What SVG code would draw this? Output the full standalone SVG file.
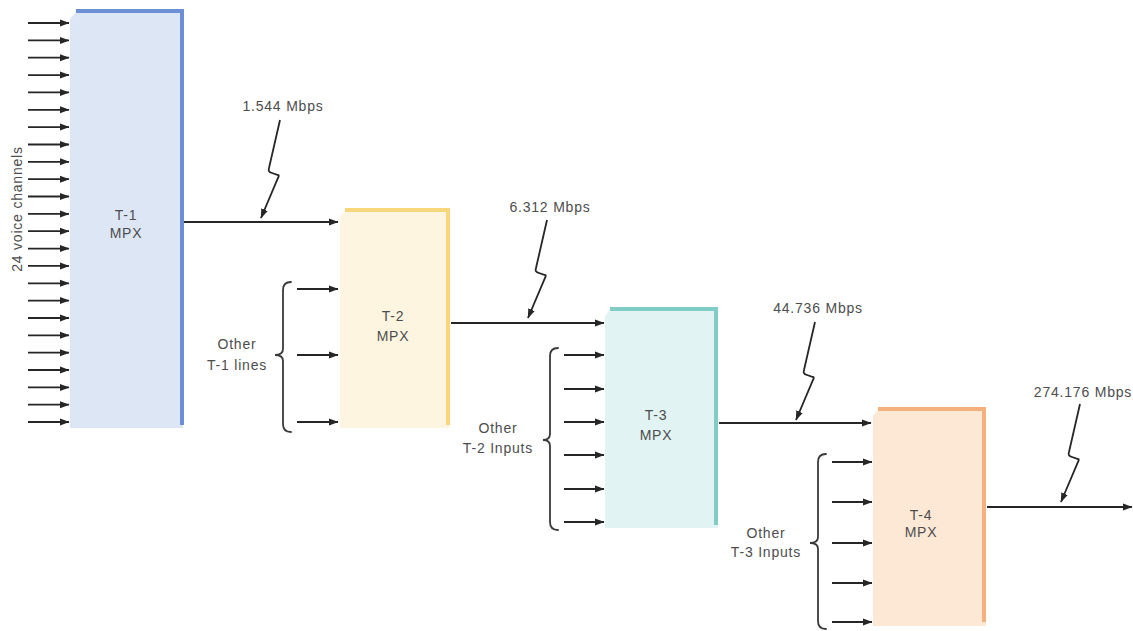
<svg xmlns="http://www.w3.org/2000/svg" width="1133" height="631" viewBox="0 0 1133 631">
<style>
.t{font-family:"Liberation Sans",Arial,sans-serif;font-size:14px;fill:#4d4d4d;letter-spacing:0.8px;text-anchor:middle}
.ln{stroke:#262626;stroke-width:1.8;fill:none}
.ar{stroke:#262626;stroke-width:1.8;fill:none;marker-end:url(#ah)}
.br{stroke:#3a3a3a;stroke-width:1.8;fill:none;stroke-linecap:round}
.edge{fill:none;stroke-width:4;stroke-linejoin:miter}
</style>
<defs>
<marker id="ah" markerUnits="userSpaceOnUse" markerWidth="10" markerHeight="8" refX="9" refY="4" orient="auto">
<path d="M0,0.5 L9.5,4 L0,7.5 z" fill="#262626"/>
</marker>
</defs>
<rect width="1133" height="631" fill="#ffffff"/>

<g id="t1">
<polygon points="70,19 77,11 183,11 183,428 70,428" fill="#dde6f5"/>
<polyline class="edge" points="76,11 182,11 182,425" stroke="#6d8fd6"/>
<text class="t" x="126" y="220">T-1</text>
<text class="t" x="126" y="238">MPX</text>
</g>

<g id="t2">
<polygon points="340,217 346,210 450,210 450,428 340,428" fill="#fdf5e0"/>
<polyline class="edge" points="345,210 448,210 448,425" stroke="#f8d77c"/>
<text class="t" x="393" y="321">T-2</text>
<text class="t" x="393" y="341">MPX</text>
</g>

<g id="t3">
<polygon points="605,316 611,309 718,309 718,528 605,528" fill="#e2f3f3"/>
<polyline class="edge" points="610,309 716,309 716,525" stroke="#7fcdc4"/>
<text class="t" x="656" y="420">T-3</text>
<text class="t" x="656" y="440">MPX</text>
</g>

<g id="t4">
<polygon points="873,416 879,409 986,409 986,626 873,626" fill="#fde8d6"/>
<polyline class="edge" points="878,409 984,409 984,622" stroke="#f5b07c"/>
<text class="t" x="921" y="520">T-4</text>
<text class="t" x="921" y="537">MPX</text>
</g>

<g id="labels">
<text class="t" transform="translate(22,209) rotate(-90)">24 voice channels</text>
<text class="t" x="283" y="111">1.544 Mbps</text>
<text class="t" x="550" y="212">6.312 Mbps</text>
<text class="t" x="818" y="313">44.736 Mbps</text>
<text class="t" x="1083" y="397">274.176 Mbps</text>
<text class="t" x="237" y="349">Other</text>
<text class="t" x="237" y="370">T-1 lines</text>
<text class="t" x="498" y="433">Other</text>
<text class="t" x="498" y="453">T-2 Inputs</text>
<text class="t" x="766" y="538">Other</text>
<text class="t" x="766" y="557">T-3 Inputs</text>
</g>

<g id="connectors">
<!-- T-1 inputs -->
<line class="ar" x1="28" y1="23" x2="69" y2="23"/>
<line class="ar" x1="28" y1="40.4" x2="69" y2="40.4"/>
<line class="ar" x1="28" y1="57.7" x2="69" y2="57.7"/>
<line class="ar" x1="28" y1="75.1" x2="69" y2="75.1"/>
<line class="ar" x1="28" y1="92.4" x2="69" y2="92.4"/>
<line class="ar" x1="28" y1="109.8" x2="69" y2="109.8"/>
<line class="ar" x1="28" y1="127.1" x2="69" y2="127.1"/>
<line class="ar" x1="28" y1="144.5" x2="69" y2="144.5"/>
<line class="ar" x1="28" y1="161.8" x2="69" y2="161.8"/>
<line class="ar" x1="28" y1="179.2" x2="69" y2="179.2"/>
<line class="ar" x1="28" y1="196.5" x2="69" y2="196.5"/>
<line class="ar" x1="28" y1="213.9" x2="69" y2="213.9"/>
<line class="ar" x1="28" y1="231.2" x2="69" y2="231.2"/>
<line class="ar" x1="28" y1="248.6" x2="69" y2="248.6"/>
<line class="ar" x1="28" y1="265.9" x2="69" y2="265.9"/>
<line class="ar" x1="28" y1="283.3" x2="69" y2="283.3"/>
<line class="ar" x1="28" y1="300.6" x2="69" y2="300.6"/>
<line class="ar" x1="28" y1="318" x2="69" y2="318"/>
<line class="ar" x1="28" y1="335.3" x2="69" y2="335.3"/>
<line class="ar" x1="28" y1="352.7" x2="69" y2="352.7"/>
<line class="ar" x1="28" y1="370" x2="69" y2="370"/>
<line class="ar" x1="28" y1="387.4" x2="69" y2="387.4"/>
<line class="ar" x1="28" y1="404.7" x2="69" y2="404.7"/>
<line class="ar" x1="28" y1="422" x2="69" y2="422"/>

<!-- trunk lines -->
<line class="ar" x1="184" y1="222" x2="338" y2="222"/>
<line class="ar" x1="451" y1="323" x2="604" y2="323"/>
<line class="ar" x1="719" y1="423" x2="871" y2="423"/>
<line class="ar" x1="987" y1="507" x2="1132" y2="507"/>

<!-- lightning bolts -->
<path class="ar" d="M280,120 l-11,48 c-1,3 0,4 3,5 l6,2 c1,0 1,1 0,3 l-17,40"/>
<path class="ar" d="M547,220 l-11,48 c-1,3 0,4 3,5 l6,2 c1,0 1,1 0,3 l-17,40"/>
<path class="ar" d="M815,322 l-11,48 c-1,3 0,4 3,5 l6,2 c1,0 1,1 0,3 l-17,40"/>
<path class="ar" d="M1080,404 l-11,48 c-1,3 0,4 3,5 l6,2 c1,0 1,1 0,3 l-17,40"/>

<!-- T-2 other inputs -->
<path class="br" d="M291,282 Q283,282 283,290 L283,349 Q283,355 275,355 Q283,355 283,361 L283,424 Q283,432 291,432"/>
<line class="ar" x1="297" y1="289" x2="338" y2="289"/>
<line class="ar" x1="297" y1="355" x2="338" y2="355"/>
<line class="ar" x1="297" y1="422" x2="338" y2="422"/>

<!-- T-3 other inputs -->
<path class="br" d="M558,348 Q550,348 550,356 L550,434 Q550,440 543,440 Q550,440 550,446 L550,522 Q550,530 558,530"/>
<line class="ar" x1="564" y1="355" x2="604" y2="355"/>
<line class="ar" x1="564" y1="389" x2="604" y2="389"/>
<line class="ar" x1="564" y1="422" x2="604" y2="422"/>
<line class="ar" x1="564" y1="455" x2="604" y2="455"/>
<line class="ar" x1="564" y1="489" x2="604" y2="489"/>
<line class="ar" x1="564" y1="522" x2="604" y2="522"/>

<!-- T-4 other inputs -->
<path class="br" d="M826,454 Q818,454 818,462 L818,537 Q818,543 810,543 Q818,543 818,549 L818,621 Q818,629 826,629"/>
<line class="ar" x1="832" y1="462" x2="872" y2="462"/>
<line class="ar" x1="832" y1="502" x2="872" y2="502"/>
<line class="ar" x1="832" y1="543" x2="872" y2="543"/>
<line class="ar" x1="832" y1="583" x2="872" y2="583"/>
<line class="ar" x1="832" y1="622" x2="872" y2="622"/>
</g>
</svg>
